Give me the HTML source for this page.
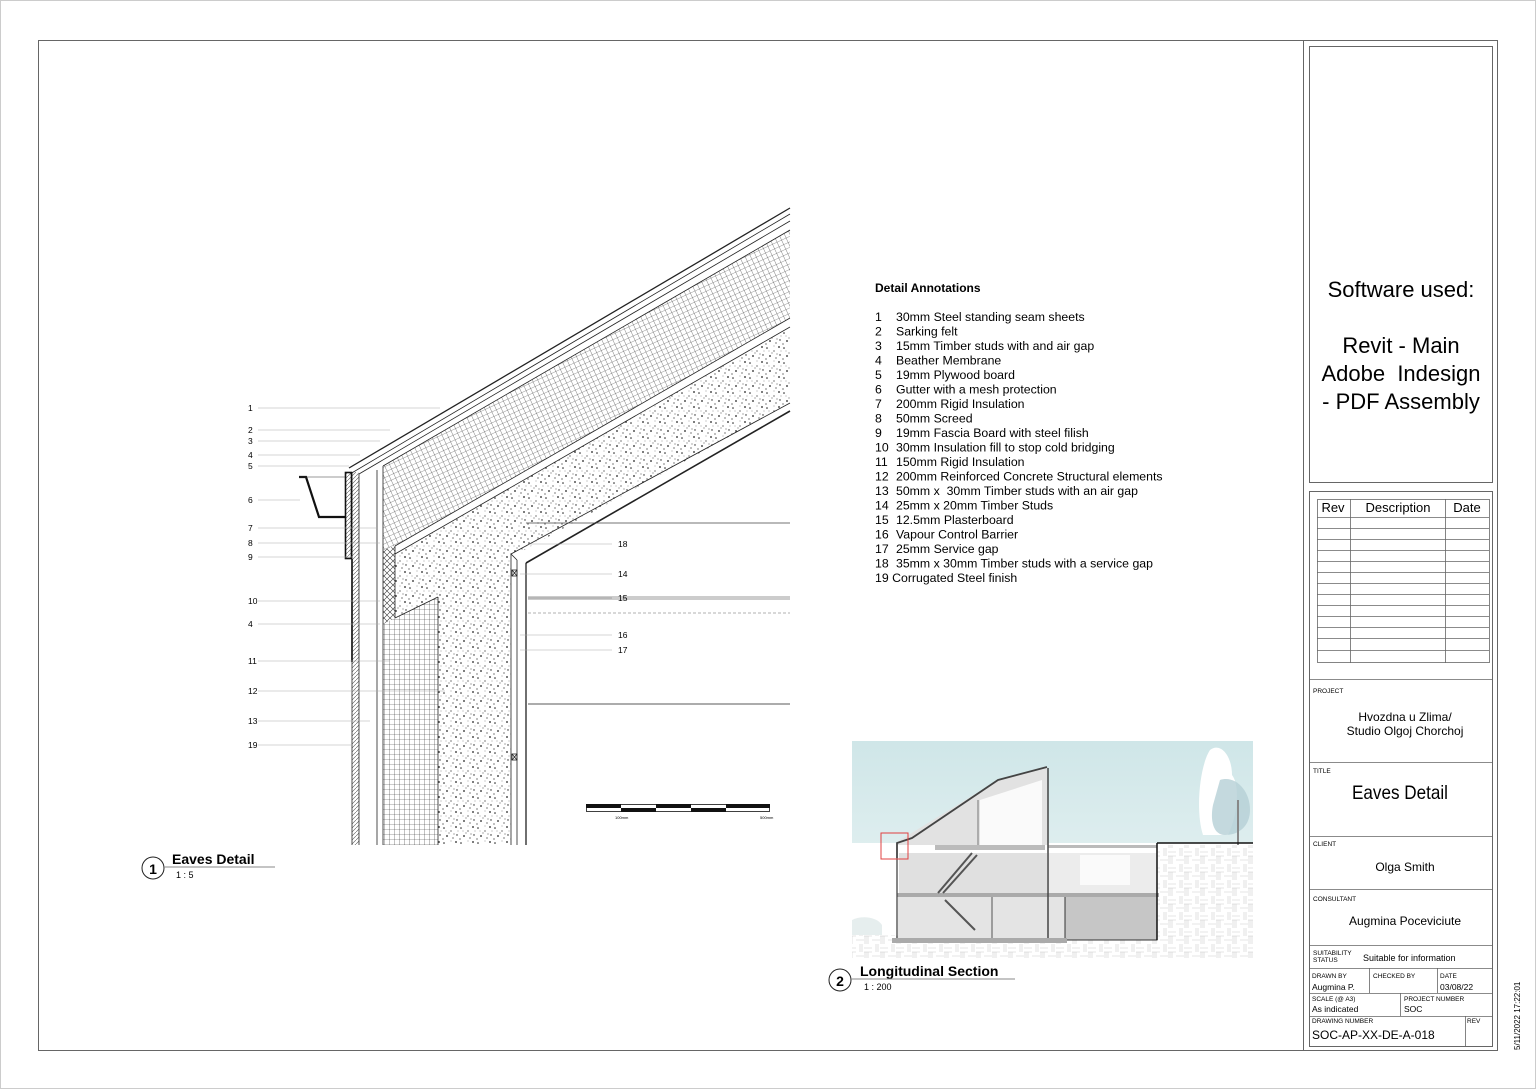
<!DOCTYPE html>
<html><head><meta charset="utf-8"><style>
html,body{margin:0;padding:0;background:#fff;}
svg{display:block;font-family:"Liberation Sans",sans-serif;}
</style></head><body>
<svg width="1536" height="1089" viewBox="0 0 1536 1089" xmlns="http://www.w3.org/2000/svg">
<defs>
<pattern id="grid" width="5" height="5" patternUnits="userSpaceOnUse">
<path d="M5 0V5M0 5H5" stroke="#333" stroke-width="0.6" fill="none"/></pattern>
<pattern id="grid2" width="5" height="5" patternUnits="userSpaceOnUse" patternTransform="rotate(-24.7)">
<path d="M5 0V5M0 5H5" stroke="#333" stroke-width="0.6" fill="none"/></pattern>
<pattern id="xh" width="6" height="6" patternUnits="userSpaceOnUse">
<path d="M0 0L6 6M6 0L0 6" stroke="#333" stroke-width="0.6"/></pattern>
<pattern id="diag" width="4" height="4" patternUnits="userSpaceOnUse">
<path d="M0 4L4 0" stroke="#555" stroke-width="0.6"/></pattern>
<pattern id="conc" width="17" height="15" patternUnits="userSpaceOnUse">
<rect width="17" height="15" fill="#fff"/>
<g fill="#222"><circle cx="2" cy="3" r="0.8"/><circle cx="9" cy="6" r="0.6"/><circle cx="14" cy="2" r="0.9"/><circle cx="15" cy="10" r="0.7"/><circle cx="5" cy="11" r="0.9"/><circle cx="11" cy="13" r="0.6"/><circle cx="7" cy="8" r="0.5"/><circle cx="1" cy="14" r="0.6"/><circle cx="12" cy="9" r="0.5"/><circle cx="4" cy="6" r="0.4"/><circle cx="16" cy="6" r="0.4"/><circle cx="9" cy="1" r="0.4"/></g></pattern>
<pattern id="ground" width="16" height="16" patternUnits="userSpaceOnUse">
<path d="M0 4H8M0 8H8M12 0V8M14 0V8M8 12H16M0 8V16M2 8V16M4 8V16" stroke="#ccc" stroke-width="0.6" fill="none"/></pattern>
<linearGradient id="sky" x1="0" y1="0" x2="0" y2="1"><stop offset="0" stop-color="#cfe6e8"/><stop offset="1" stop-color="#eef6f6"/></linearGradient>
</defs>

<rect x="0.5" y="0.5" width="1535" height="1088" fill="none" stroke="#ccc"/>
<rect x="38.5" y="40.5" width="1459" height="1010" fill="none" stroke="#666" stroke-width="1"/>
<line x1="1303.5" y1="40" x2="1303.5" y2="1050" stroke="#666"/>
<rect x="1309.5" y="46.5" width="183" height="436" fill="none" stroke="#666"/>
<rect x="1309.5" y="491.5" width="183" height="555" fill="none" stroke="#666"/>

<text x="1401" y="297" font-size="22" text-anchor="middle">Software used:</text>
<text x="1401" y="353" font-size="22" text-anchor="middle">Revit - Main</text>
<text x="1401" y="381" font-size="22" text-anchor="middle" xml:space="preserve">Adobe  Indesign</text>
<text x="1401" y="409" font-size="22" text-anchor="middle">- PDF Assembly</text>

<g stroke="#666" stroke-width="0.8" fill="none">
<rect x="1317.5" y="499.5" width="172" height="163"/>
<line x1="1350.5" y1="499" x2="1350.5" y2="663"/>
<line x1="1445.5" y1="499" x2="1445.5" y2="663"/>
<path d="M1317 517.5H1489M1317 528.5H1489M1317 539.5H1489M1317 550.5H1489M1317 561.5H1489M1317 572.5H1489M1317 583.5H1489M1317 594.5H1489M1317 605.5H1489M1317 616.5H1489M1317 627.5H1489M1317 638.5H1489M1317 650.5H1489"/>
<path d="M1309 679.5H1493M1309 762.5H1493M1309 836.5H1493M1309 889.5H1493M1309 945.5H1493M1309 968.5H1493M1309 993.5H1493M1309 1016.5H1493"/>
<path d="M1369.5 968V993M1437.5 968V993M1400.5 993V1016M1465.5 1016V1046"/>
</g>
<text x="1333" y="512" font-size="13" text-anchor="middle">Rev</text>
<text x="1398" y="512" font-size="13" text-anchor="middle">Description</text>
<text x="1467" y="512" font-size="13" text-anchor="middle">Date</text>
<g font-size="6.5">
<text x="1313" y="693">PROJECT</text><text x="1313" y="773">TITLE</text><text x="1313" y="846">CLIENT</text><text x="1313" y="901">CONSULTANT</text>
<text x="1313" y="955">SUITABILITY</text><text x="1313" y="962">STATUS</text>
<text x="1312" y="978">DRAWN BY</text><text x="1373" y="978">CHECKED BY</text><text x="1440" y="978">DATE</text>
<text x="1312" y="1001">SCALE (@ A3)</text><text x="1404" y="1001">PROJECT NUMBER</text>
<text x="1312" y="1023">DRAWING NUMBER</text><text x="1467" y="1023">REV</text>
</g>
<text x="1405" y="721" font-size="12" text-anchor="middle">Hvozdna u Zlima/</text>
<text x="1405" y="735" font-size="12" text-anchor="middle">Studio Olgoj Chorchoj</text>
<text x="1400" y="799" font-size="19" text-anchor="middle" transform="translate(1400 0) scale(0.9 1) translate(-1400 0)">Eaves Detail</text>
<text x="1405" y="871" font-size="12" text-anchor="middle">Olga Smith</text>
<text x="1405" y="925" font-size="12" text-anchor="middle">Augmina Poceviciute</text>
<text x="1363" y="961" font-size="9">Suitable for information</text>
<text x="1312" y="990" font-size="8.5">Augmina P.</text>
<text x="1440" y="990" font-size="8.5">03/08/22</text>
<text x="1312" y="1012" font-size="8.5">As indicated</text>
<text x="1404" y="1012" font-size="8.5">SOC</text>
<text x="1312" y="1039" font-size="12">SOC-AP-XX-DE-A-018</text>
<text transform="translate(1520 1050) rotate(-90)" font-size="8">5/11/2022 17:22:01</text>

<!-- eaves detail -->
<polygon points="395,554 790,327 790,403 517,554 511,554 511,845 438,845 438,597 395,618" fill="url(#conc)"/>
<polygon points="383,466 790,230 790,318 395,546 383,550" fill="url(#grid2)"/>
<polygon points="383,550 395,546 395,618 383,624" fill="url(#xh)"/>
<polygon points="383,624 438,597 438,845 383,845" fill="url(#grid)"/>
<rect x="352" y="472" width="7" height="373" fill="url(#diag)"/>
<g stroke="#222" fill="none" stroke-width="0.8">
<line x1="349" y1="468" x2="790" y2="208" stroke-width="1.3"/>
<line x1="350" y1="474" x2="790" y2="214"/>
<line x1="359" y1="474" x2="790" y2="221"/>
<line x1="383" y1="466" x2="790" y2="230"/>
<line x1="395" y1="546" x2="790" y2="318"/>
<line x1="395" y1="554" x2="790" y2="327"/>
<line x1="511" y1="554" x2="790" y2="403"/>
<line x1="526" y1="563" x2="790" y2="411" stroke-width="1.6"/>
<line x1="352" y1="472" x2="352" y2="845"/>
<line x1="359" y1="474" x2="359" y2="845"/>
<line x1="377" y1="470" x2="377" y2="845"/>
<line x1="383" y1="466" x2="383" y2="845"/>
<line x1="395" y1="546" x2="395" y2="618"/>
<line x1="438" y1="597" x2="438" y2="845"/>
<line x1="395" y1="618" x2="438" y2="597"/>
<line x1="511" y1="554" x2="511" y2="845"/>
<line x1="517" y1="560" x2="517" y2="845"/>
<line x1="526" y1="563" x2="526" y2="845" stroke-width="1.3"/>
<line x1="511" y1="554" x2="517" y2="560"/>
<line x1="352" y1="559" x2="352" y2="662" stroke-width="1.8"/>
<path d="M526 523H790" stroke="#444"/>
<path d="M528 597H790M528 599H790" stroke="#777"/>
<path d="M528 613H790" stroke="#999" stroke-dasharray="3 2"/>
<path d="M528 704H790" stroke="#222"/>
<rect x="512" y="570" width="5" height="6"/><path d="M512 570l5 6M517 570l-5 6"/>
<rect x="512" y="754" width="5" height="6"/><path d="M512 754l5 6M517 754l-5 6"/>
</g>
<polyline points="299,477 306,477 319,517 345,517" fill="none" stroke="#111" stroke-width="2.2"/>
<rect x="345.5" y="472.5" width="6" height="86" fill="url(#diag)" stroke="#111" stroke-width="1.6"/>
<line x1="299" y1="477" x2="345" y2="477" stroke="#333" stroke-width="0.6"/>

<g stroke="#aaa" stroke-width="0.6">
<path d="M258 408H440M258 430H390M258 441H380M258 455H360M258 466H349M258 500H300M258 528H378M258 543H380M258 557H352M258 601H380M258 624H380M258 661H390M258 691H445M258 721H370M258 745H352"/>
<path d="M528 544H612M520 574H612M528 598H612M520 635H612M520 650H612"/>
</g>
<g font-size="8.5">
<text x="248" y="411">1</text><text x="248" y="433">2</text><text x="248" y="444">3</text><text x="248" y="458">4</text><text x="248" y="469">5</text><text x="248" y="503">6</text><text x="248" y="531">7</text><text x="248" y="546">8</text><text x="248" y="560">9</text><text x="248" y="604">10</text><text x="248" y="627">4</text><text x="248" y="664">11</text><text x="248" y="694">12</text><text x="248" y="724">13</text><text x="248" y="748">19</text>
<text x="618" y="547">18</text><text x="618" y="577">14</text><text x="618" y="601">15</text><text x="618" y="638">16</text><text x="618" y="653">17</text>
</g>
<rect x="586.5" y="804.5" width="183" height="7" fill="none" stroke="#111" stroke-width="0.8"/>
<g fill="#111"><rect x="586" y="804" width="35" height="4"/><rect x="621" y="808" width="35" height="4"/><rect x="656" y="804" width="35" height="4"/><rect x="691" y="808" width="35" height="4"/><rect x="726" y="804" width="44" height="4"/></g>
<text x="615" y="819" font-size="4">100mm</text><text x="760" y="819" font-size="4">500mm</text>

<circle cx="153" cy="868" r="11" fill="none" stroke="#222"/>
<text x="153" y="874" font-size="14" font-weight="bold" text-anchor="middle">1</text>
<text x="172" y="864" font-size="14" font-weight="bold">Eaves Detail</text>
<line x1="164" y1="867" x2="275" y2="867" stroke="#888"/>
<text x="176" y="878" font-size="9">1 : 5</text>

<text x="875" y="292" font-size="12" font-weight="bold">Detail Annotations</text>
<g font-size="12.3">
<text x="875" y="321">1</text><text x="896" y="321">30mm Steel standing seam sheets</text>
<text x="875" y="335.5">2</text><text x="896" y="335.5">Sarking felt</text>
<text x="875" y="350">3</text><text x="896" y="350">15mm Timber studs with and air gap</text>
<text x="875" y="364.5">4</text><text x="896" y="364.5">Beather Membrane</text>
<text x="875" y="379">5</text><text x="896" y="379">19mm Plywood board</text>
<text x="875" y="393.5">6</text><text x="896" y="393.5">Gutter with a mesh protection</text>
<text x="875" y="408">7</text><text x="896" y="408">200mm Rigid Insulation</text>
<text x="875" y="422.5">8</text><text x="896" y="422.5">50mm Screed</text>
<text x="875" y="437">9</text><text x="896" y="437">19mm Fascia Board with steel filish</text>
<text x="875" y="451.5">10</text><text x="896" y="451.5">30mm Insulation fill to stop cold bridging</text>
<text x="875" y="466">11</text><text x="896" y="466">150mm Rigid Insulation</text>
<text x="875" y="480.5">12</text><text x="896" y="480.5">200mm Reinforced Concrete Structural elements</text>
<text x="875" y="495">13</text><text x="896" y="495" xml:space="preserve">50mm x  30mm Timber studs with an air gap</text>
<text x="875" y="509.5">14</text><text x="896" y="509.5">25mm x 20mm Timber Studs</text>
<text x="875" y="524">15</text><text x="896" y="524">12.5mm Plasterboard</text>
<text x="875" y="538.5">16</text><text x="896" y="538.5">Vapour Control Barrier</text>
<text x="875" y="553">17</text><text x="896" y="553">25mm Service gap</text>
<text x="875" y="567.5">18</text><text x="896" y="567.5">35mm x 30mm Timber studs with a service gap</text>
<text x="875" y="582">19 Corrugated Steel finish</text>
</g>

<!-- longitudinal section -->
<rect x="852" y="741" width="401" height="217" fill="url(#sky)"/>
<rect x="852" y="843" width="401" height="115" fill="#fff"/>
<rect x="852" y="935" width="401" height="23" fill="url(#ground)"/>
<rect x="1157" y="845" width="96" height="90" fill="url(#ground)"/>
<path d="M1210 750c10-8 22 5 22 25 8 10 6 40-4 60l-25 0c-8-25-3-70 7-85z" fill="#fff"/>
<path d="M1220 780c15-5 30 10 30 30 0 15-10 25-25 25-12 0-15-15-12-30z" fill="#b5d0d6" opacity="0.8"/>
<rect x="1237" y="800" width="2" height="45" fill="#888"/>
<path d="M852 920c10-5 25-3 30 5v10h-30z" fill="#e6eeee"/>
<polygon points="897,845 897,842 998,780 1047,768 1048,845" fill="#e2e2e2"/>
<polygon points="980,800 1042,780 1042,845 980,845" fill="#fafafa"/>
<rect x="899" y="853" width="148" height="40" fill="#e0e0e0"/>
<rect x="1048" y="853" width="109" height="40" fill="#ececec"/>
<rect x="1080" y="855" width="50" height="30" fill="#fafafa"/>
<rect x="898" y="897" width="167" height="44" fill="#e4e4e4"/>
<rect x="1065" y="895" width="92" height="45" fill="#c6c6c6" stroke="#333"/>
<rect x="935" y="845" width="110" height="5" fill="#bbb"/>
<rect x="1048" y="845" width="109" height="3" fill="#bbb"/>
<rect x="897" y="893" width="262" height="4" fill="#aaa"/>
<polyline points="897,858 897,843 912,838 998,780 1047,767" fill="none" stroke="#444" stroke-width="1.8"/>
<line x1="1048" y1="768" x2="1048" y2="941" stroke="#444" stroke-width="1.5"/>
<line x1="978" y1="800" x2="978" y2="845" stroke="#777"/>
<line x1="1157" y1="843" x2="1157" y2="940" stroke="#111" stroke-width="1.5"/>
<line x1="1157" y1="843" x2="1253" y2="843" stroke="#111" stroke-width="1.5"/>
<line x1="897" y1="858" x2="897" y2="940" stroke="#444" stroke-width="1.3"/>
<line x1="992" y1="897" x2="992" y2="940" stroke="#555"/>
<rect x="892" y="938" width="175" height="5" fill="#aaa"/>
<path d="M938 893L972 853M943 893L977 855M945 900L975 930" stroke="#555" stroke-width="2"/>
<rect x="881" y="833" width="27" height="26" fill="none" stroke="#e04040" stroke-width="1"/>
<circle cx="840" cy="980" r="11" fill="none" stroke="#222"/>
<text x="840" y="986" font-size="14" font-weight="bold" text-anchor="middle">2</text>
<text x="860" y="976" font-size="14" font-weight="bold">Longitudinal Section</text>
<line x1="851" y1="979" x2="1015" y2="979" stroke="#888"/>
<text x="864" y="990" font-size="9">1 : 200</text>
</svg>
</body></html>
